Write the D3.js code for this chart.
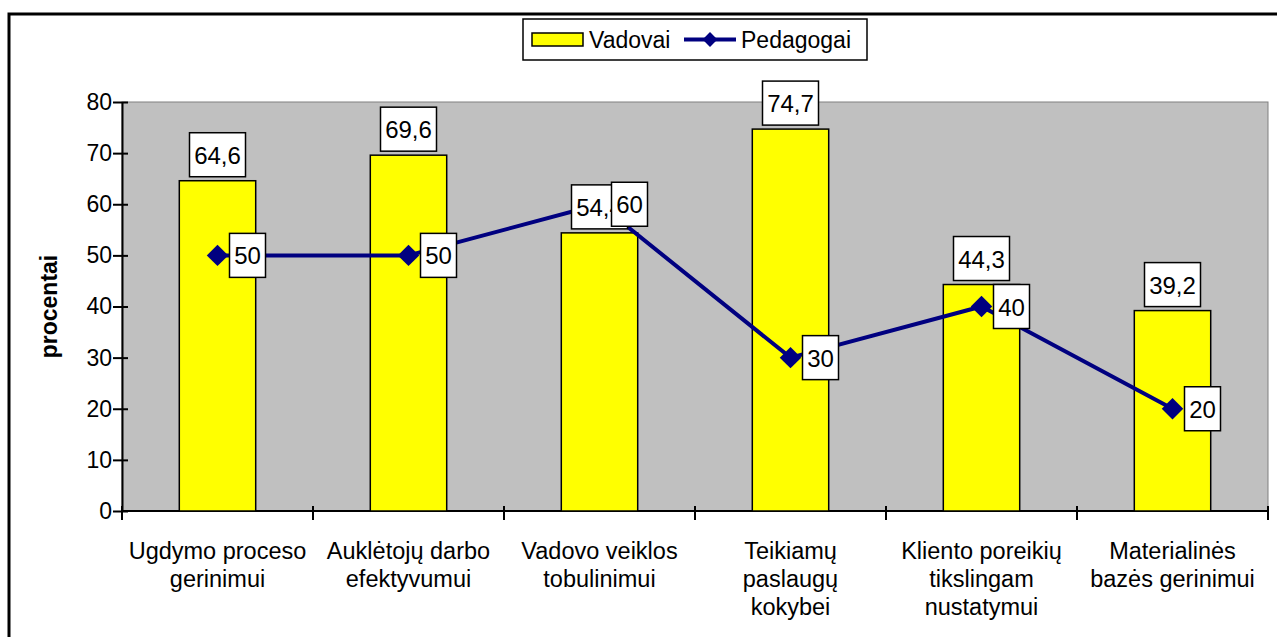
<!DOCTYPE html>
<html>
<head>
<meta charset="utf-8">
<script src="https://cdn.jsdelivr.net/npm/d3@7"></script>
<style>
  body { margin: 0; background: #fff; }
  svg { display: block; font-family: Arial, "Liberation Sans", sans-serif; }
</style>
</head>
<body>
<div id="chart"></div>
<script>
// --- DATA ---
const categories = [
    ["Ugdymo proceso", "gerinimui"],
    ["Auklėtojų darbo", "efektyvumui"],
    ["Vadovo veiklos", "tobulinimui"],
    ["Teikiamų", "paslaugų", "kokybei"],
    ["Kliento poreikių", "tikslingam", "nustatymui"],
    ["Materialinės", "bazės gerinimui"]
];
const vadovai = [64.6, 69.6, 54.4, 74.7, 44.3, 39.2];
const pedagogai = [50, 50, 60, 30, 40, 20];
const yTicks = [0, 10, 20, 30, 40, 50, 60, 70, 80];
const seriesNames = ["Vadovai", "Pedagogai"];

// --- SETUP ---
const width = 1277, height = 637;
const margin = {top: 102, right: 9, bottom: 126, left: 122};
const fmt = v => String(v).replace(".", ",");

const svg = d3.select("#chart").append("svg")
    .attr("width", width)
    .attr("height", height);

// outer frame (only top and left edges show)
svg.append("rect")
    .attr("x", 9).attr("y", 14)
    .attr("width", width + 20).attr("height", height + 20)
    .attr("fill", "none")
    .attr("stroke", "#000")
    .attr("stroke-width", 3);

const x = d3.scaleBand()
    .domain(d3.range(categories.length))
    .range([margin.left, width - margin.right])
    .paddingInner(0.6)
    .paddingOuter(0.3);
const xc = i => x(i) + x.bandwidth() / 2;

const y = d3.scaleLinear()
    .domain([0, 80])
    .range([height - margin.bottom, margin.top]);

const x0 = margin.left, x1 = width - margin.right;

// plot area
svg.append("rect")
    .attr("x", x0).attr("y", y(80))
    .attr("width", x1 - x0).attr("height", y(0) - y(80))
    .attr("fill", "#c0c0c0")
    .attr("stroke", "#808080")
    .attr("stroke-width", 1);

// --- AXES ---
const yAxis = svg.append("g")
    .attr("transform", `translate(${x0},0)`)
    .call(d3.axisLeft(y).tickValues(yTicks).tickSizeInner(9).tickSizeOuter(0).tickPadding(1));
yAxis.select(".domain").attr("stroke", "#000").attr("stroke-width", 2);
yAxis.selectAll(".tick line")
    .attr("x1", 6).attr("x2", -9)
    .attr("stroke", "#000").attr("stroke-width", 2);
yAxis.selectAll(".tick text")
    .attr("font-size", 23)
    .attr("font-family", "Arial, 'Liberation Sans', sans-serif")
    .attr("fill", "#000");

const xg = svg.append("g");
xg.append("line")
    .attr("x1", x0).attr("x2", x1)
    .attr("y1", y(0)).attr("y2", y(0))
    .attr("stroke", "#000").attr("stroke-width", 2);
const step = (x1 - x0) / categories.length;
xg.selectAll("line.tick")
    .data(d3.range(categories.length + 1))
    .join("line")
    .attr("class", "tick")
    .attr("x1", d => x0 + d * step).attr("x2", d => x0 + d * step)
    .attr("y1", y(0) - 5).attr("y2", y(0) + 9)
    .attr("stroke", "#000").attr("stroke-width", 2);

const catLabel = svg.append("g")
    .selectAll("text")
    .data(categories)
    .join("text")
    .attr("text-anchor", "middle")
    .attr("font-size", 23.5)
    .attr("fill", "#000")
    .attr("y", y(0) + 48);
catLabel.selectAll("tspan")
    .data((d, i) => d.map(t => ({t, i})))
    .join("tspan")
    .attr("x", d => xc(d.i))
    .attr("dy", (d, j) => j === 0 ? 0 : 28)
    .text(d => d.t);

svg.append("text")
    .attr("transform", `translate(57,${(y(0) + y(80)) / 2}) rotate(-90)`)
    .attr("text-anchor", "middle")
    .attr("font-size", 23)
    .attr("font-weight", "bold")
    .text("procentai");

// --- BARS ---
svg.append("g")
    .selectAll("rect")
    .data(vadovai)
    .join("rect")
    .attr("x", (d, i) => x(i))
    .attr("y", d => y(d))
    .attr("width", x.bandwidth())
    .attr("height", d => y(0) - y(d))
    .attr("fill", "#ffff00")
    .attr("stroke", "#000")
    .attr("stroke-width", 1.5);

// --- LINE ---
const line = d3.line()
    .x((d, i) => xc(i))
    .y(d => y(d));
svg.append("path")
    .datum(pedagogai)
    .attr("d", line)
    .attr("fill", "none")
    .attr("stroke", "#000080")
    .attr("stroke-width", 4);

svg.append("g")
    .selectAll("path")
    .data(pedagogai)
    .join("path")
    .attr("transform", (d, i) => `translate(${xc(i)},${y(d)}) rotate(45)`)
    .attr("d", d3.symbol().type(d3.symbolSquare).size(230))
    .attr("fill", "#000080");

// --- DATA LABELS ---
function labelBox(g, text, cx, cy, w, h) {
    g.append("rect")
        .attr("x", cx - w / 2).attr("y", cy - h / 2)
        .attr("width", w).attr("height", h)
        .attr("fill", "#fff")
        .attr("stroke", "#000")
        .attr("stroke-width", 1.5);
    g.append("text")
        .attr("x", cx).attr("y", cy + 9)
        .attr("text-anchor", "middle")
        .attr("font-size", 24)
        .text(text);
}

const barLabels = svg.append("g");
vadovai.forEach((v, i) => {
    labelBox(barLabels.append("g"), fmt(v), xc(i), y(v) - 26, 56, 44);
});
const lineLabels = svg.append("g");
pedagogai.forEach((v, i) => {
    labelBox(lineLabels.append("g"), fmt(v), xc(i) + 12 + 18, y(v), 36, 44);
});

// --- LEGEND ---
const legend = svg.append("g");
legend.append("rect")
    .attr("x", 523).attr("y", 19)
    .attr("width", 344).attr("height", 41)
    .attr("fill", "#fff")
    .attr("stroke", "#000")
    .attr("stroke-width", 1.5);
legend.append("rect")
    .attr("x", 532).attr("y", 33)
    .attr("width", 51).attr("height", 13)
    .attr("fill", "#ffff00")
    .attr("stroke", "#000")
    .attr("stroke-width", 1.5);
legend.append("text")
    .attr("x", 589).attr("y", 48)
    .attr("font-size", 23)
    .text(seriesNames[0]);
legend.append("line")
    .attr("x1", 684).attr("x2", 736)
    .attr("y1", 39.5).attr("y2", 39.5)
    .attr("stroke", "#000080")
    .attr("stroke-width", 4);
legend.append("path")
    .attr("transform", "translate(710,39.5) rotate(45)")
    .attr("d", d3.symbol().type(d3.symbolSquare).size(110))
    .attr("fill", "#000080");
legend.append("text")
    .attr("x", 741).attr("y", 48)
    .attr("font-size", 23)
    .text(seriesNames[1]);
</script>
</body>
</html>
